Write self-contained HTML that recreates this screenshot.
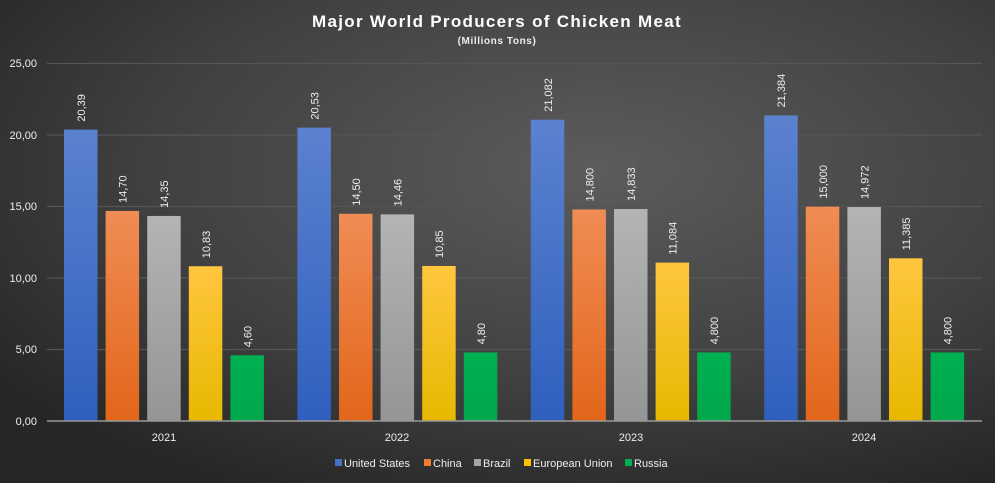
<!DOCTYPE html>
<html><head><meta charset="utf-8"><style>
html,body{margin:0;padding:0;background:#333;}
svg{display:block;}
text{font-family:"Liberation Sans",sans-serif;}
</style></head><body>
<svg width="995" height="483" viewBox="0 0 995 483" xmlns="http://www.w3.org/2000/svg">
<defs>
<radialGradient id="bg" cx="0.6" cy="0.35" r="0.75">
<stop offset="0" stop-color="#5c5c5c"/><stop offset="0.6" stop-color="#404040"/><stop offset="1" stop-color="#262626"/>
</radialGradient>
<linearGradient id="g0" x1="0" y1="0" x2="0" y2="1"><stop offset="0" stop-color="#5b82cf"/><stop offset="1" stop-color="#2f5fbe"/></linearGradient>
<linearGradient id="g1" x1="0" y1="0" x2="0" y2="1"><stop offset="0" stop-color="#f08c55"/><stop offset="1" stop-color="#e2661a"/></linearGradient>
<linearGradient id="g2" x1="0" y1="0" x2="0" y2="1"><stop offset="0" stop-color="#b4b4b4"/><stop offset="1" stop-color="#959595"/></linearGradient>
<linearGradient id="g3" x1="0" y1="0" x2="0" y2="1"><stop offset="0" stop-color="#ffc63f"/><stop offset="1" stop-color="#e8b800"/></linearGradient>
<linearGradient id="g4" x1="0" y1="0" x2="0" y2="1"><stop offset="0" stop-color="#00b050"/><stop offset="1" stop-color="#00a84c"/></linearGradient>
</defs>
<rect width="995" height="483" fill="url(#bg)"/>
<text x="497" y="27" text-anchor="middle" font-size="17" font-weight="bold" fill="#fff" letter-spacing="1.3">Major World Producers of Chicken Meat</text>
<text x="497" y="44" text-anchor="middle" font-size="10" font-weight="bold" fill="#eee" letter-spacing="0.6">(Millions Tons)</text>
<g stroke="#555" stroke-width="1.2">
<line x1="47" x2="982" y1="63.5" y2="63.5"/><line x1="47" x2="982" y1="135" y2="135"/>
<line x1="47" x2="982" y1="206.5" y2="206.5"/><line x1="47" x2="982" y1="278" y2="278"/>
<line x1="47" x2="982" y1="349.5" y2="349.5"/>
</g>
<g font-size="11" fill="#eee" text-anchor="end">
<text x="37" y="67">25,00</text><text x="37" y="139">20,00</text><text x="37" y="210">15,00</text>
<text x="37" y="282">10,00</text><text x="37" y="353">5,00</text><text x="37" y="425">0,00</text>
</g>
<g id="bars"></g>
<line x1="47" x2="982" y1="421" y2="421" stroke="#999" stroke-width="1.5"/>
<g font-size="11" fill="#eee" text-anchor="middle">
<text x="164" y="441">2021</text><text x="397" y="441">2022</text><text x="631" y="441">2023</text><text x="864" y="441">2024</text>
</g>
<g font-size="11" fill="#eee">
<rect x="335" y="459" width="7" height="7" fill="#4472c4"/><text x="344" y="467">United States</text>
<rect x="424" y="459" width="7" height="7" fill="#ed7d31"/><text x="433" y="467">China</text>
<rect x="474" y="459" width="7" height="7" fill="#a5a5a5"/><text x="483" y="467">Brazil</text>
<rect x="524" y="459" width="7" height="7" fill="#ffc000"/><text x="533" y="467">European Union</text>
<rect x="625" y="459" width="7" height="7" fill="#00b050"/><text x="634" y="467">Russia</text>
</g>
<g id="lbl" font-size="11" fill="#eee"></g>
<script>
var d=[[20.39,14.70,14.35,10.83,4.60],[20.53,14.50,14.46,10.85,4.80],[21.082,14.800,14.833,11.084,4.800],[21.384,15.000,14.972,11.385,4.800]];
var s=[["20,39","14,70","14,35","10,83","4,60"],["20,53","14,50","14,46","10,85","4,80"],["21,082","14,800","14,833","11,084","4,800"],["21,384","15,000","14,972","11,385","4,800"]];
var ns="http://www.w3.org/2000/svg",B=document.getElementById("bars"),L=document.getElementById("lbl");
for(var g=0;g<4;g++)for(var i=0;i<5;i++){
var x=64+g*233.4+i*41.6,h=d[g][i]*14.29,y=421-h;
var r=document.createElementNS(ns,"rect");r.setAttribute("x",x);r.setAttribute("y",y);r.setAttribute("width",33.5);r.setAttribute("height",h);r.setAttribute("fill","url(#g"+i+")");B.appendChild(r);
var t=document.createElementNS(ns,"text");var cx=x+17+4,cy=y-8;t.setAttribute("x",cx);t.setAttribute("y",cy);t.setAttribute("transform","rotate(-90 "+cx+" "+cy+")");t.textContent=s[g][i];L.appendChild(t);}
</script>
</svg>
</body></html>
